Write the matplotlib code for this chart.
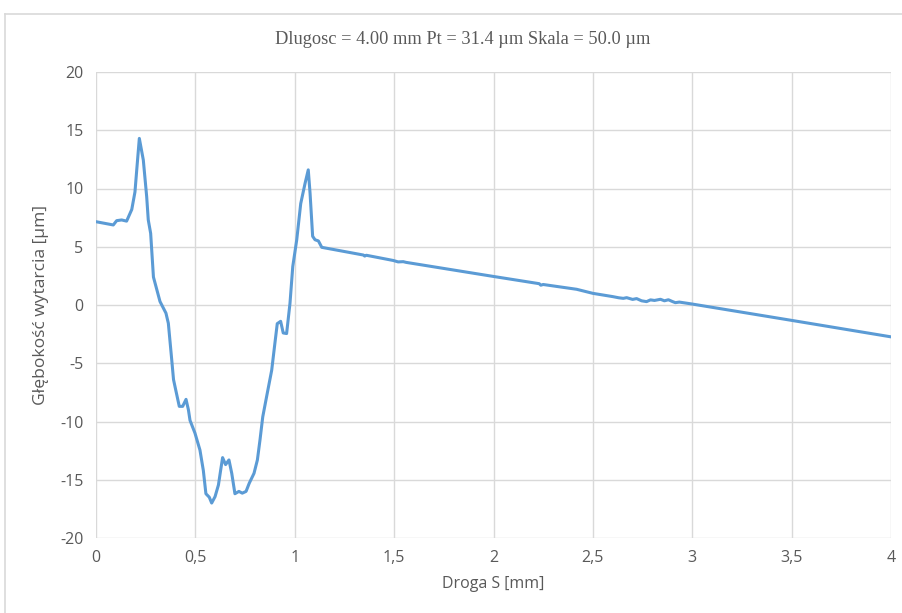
import matplotlib
matplotlib.use("Agg")
import matplotlib.pyplot as plt
from matplotlib.lines import Line2D

# ---- data ----
droga_mm = [0.000, 0.087, 0.104, 0.129, 0.154, 0.180, 0.196, 0.205, 0.218, 0.238,
            0.255, 0.263, 0.275, 0.289, 0.322, 0.352, 0.364, 0.381, 0.390, 0.400,
            0.419, 0.436, 0.453, 0.465, 0.473, 0.498, 0.523, 0.540, 0.553, 0.570,
            0.582, 0.599, 0.616, 0.627, 0.637, 0.652, 0.669, 0.683, 0.699, 0.719,
            0.736, 0.755, 0.771, 0.795, 0.812, 0.825, 0.839, 0.858, 0.884, 0.900,
            0.912, 0.929, 0.942, 0.959, 0.976, 0.990, 1.010, 1.030, 1.052, 1.068,
            1.077, 1.090, 1.102, 1.119, 1.136, 1.228, 1.345, 1.352, 1.360, 1.496,
            1.520, 1.546, 1.560, 2.000, 2.230, 2.238, 2.250, 2.418, 2.500, 2.600,
            2.630, 2.653, 2.670, 2.700, 2.720, 2.745, 2.770, 2.790, 2.810, 2.840,
            2.860, 2.880, 2.900, 2.915, 2.935, 2.997, 3.500, 3.995]
glebokosc_um = [7.15, 6.87, 7.24, 7.30, 7.20, 8.20, 9.70, 11.60, 14.30, 12.45,
                9.30, 7.30, 6.15, 2.40, 0.30, -0.70, -1.57, -4.70, -6.40, -7.20,
                -8.70, -8.70, -8.10, -9.00, -9.90, -11.00, -12.45, -14.20, -16.20, -16.50,
                -17.00, -16.45, -15.45, -14.20, -13.10, -13.70, -13.30, -14.45, -16.20, -16.00,
                -16.15, -16.00, -15.30, -14.45, -13.30, -11.60, -9.60, -7.90, -5.60, -3.30,
                -1.60, -1.40, -2.40, -2.45, 0.14, 3.30, 5.60, 8.70, 10.45, 11.60,
                9.60, 5.90, 5.60, 5.50, 4.95, 4.66, 4.29, 4.20, 4.27, 3.82,
                3.70, 3.72, 3.66, 2.45, 1.83, 1.70, 1.76, 1.35, 1.00, 0.72,
                0.62, 0.57, 0.63, 0.48, 0.55, 0.36, 0.29, 0.44, 0.39, 0.49,
                0.36, 0.45, 0.30, 0.20, 0.25, 0.09, -1.32, -2.72]

x_ticks = [0, 0.5, 1, 1.5, 2, 2.5, 3, 3.5, 4]
x_tick_labels = ["0", "0,5", "1", "1,5", "2", "2,5", "3", "3,5", "4"]
y_ticks = [-20, -15, -10, -5, 0, 5, 10, 15, 20]
y_tick_labels = ["-20", "-15", "-10", "-5", "0", "5", "10", "15", "20"]

title_text = "Dlugosc = 4.00 mm Pt = 31.4 \u00b5m Skala = 50.0 \u00b5m"
x_label = "Droga S [mm]"
y_label = "G\u0142\u0119boko\u015b\u0107 wytarcia [\u00b5m]"

SANS = ["Open Sans", "DejaVu Sans"]

# ---- figure ----
W, H = 902, 613
fig = plt.figure(figsize=(W / 100, H / 100), dpi=100)
fig.patch.set_facecolor("white")

# outer chart-area border (left and top visible)
fig.add_artist(Line2D([5 / W, 5 / W], [0, 1 - 14 / H], color="#D9D9D9", lw=1.2))
fig.add_artist(Line2D([5 / W, 1], [1 - 14 / H, 1 - 14 / H], color="#D9D9D9", lw=1.2))

left, right, top, bottom = 96, 891, 72, 538
ax = fig.add_axes([left / W, 1 - bottom / H, (right - left) / W, (bottom - top) / H])

ax.plot(droga_mm, glebokosc_um, color="#5B9BD5", lw=2.2, solid_joinstyle="round", zorder=3)

ax.set_xlim(0, 4)
ax.set_ylim(-20, 20)
ax.set_xticks(x_ticks)
ax.set_xticklabels(x_tick_labels)
ax.set_yticks(y_ticks)
ax.set_yticklabels(y_tick_labels)
ax.grid(True, color="#D9D9D9", lw=1.0, zorder=0)
ax.set_axisbelow(True)
for s in ax.spines.values():
    s.set_visible(False)
ax.tick_params(length=0, labelsize=11.5, labelcolor="#595959")
ax.tick_params(axis="y", pad=9)
ax.tick_params(axis="x", pad=9)
for lab in ax.get_xticklabels() + ax.get_yticklabels():
    lab.set_family(SANS)

ax.set_xlabel(x_label, fontsize=11.5, color="#595959", family=SANS, labelpad=7)
ax.set_ylabel(y_label, fontsize=12.6, color="#595959", family=SANS, labelpad=8)

fig.text(463 / W, 1 - 40 / H, title_text, ha="center", va="center", fontsize=13.2,
         color="#595959", family=["Liberation Serif", "DejaVu Serif"])

fig.savefig("out.png", dpi=100)
